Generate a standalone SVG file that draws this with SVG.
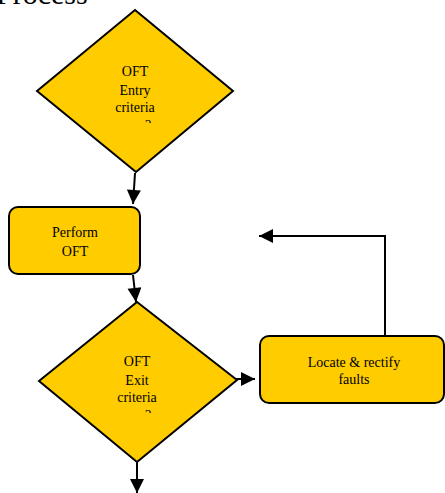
<svg xmlns="http://www.w3.org/2000/svg" width="445" height="493" viewBox="0 0 445 493">
<style>
.shape{fill:#FFCC00;stroke:#000;stroke-width:2}
.lbl{font-family:"Liberation Serif","Times New Roman",serif;font-size:14px;fill:#000;text-anchor:middle}
.conn{fill:none;stroke:#000;stroke-width:2}
</style>
<defs>
<marker id="ah" viewBox="0 0 10 10" refX="10" refY="5" markerWidth="15" markerHeight="14" markerUnits="userSpaceOnUse" orient="auto">
<path d="M0,0 L10,5 L0,10 Z" fill="#000"/>
</marker>
<clipPath id="c1"><rect x="100" y="116" width="80" height="7"/></clipPath>
<clipPath id="c2"><rect x="100" y="406" width="80" height="7"/></clipPath>
</defs>
<rect width="445" height="493" fill="#fff"/>
<text x="-4" y="4" style="font-family:'Liberation Serif','Times New Roman',serif;font-size:30px">Process</text>
<g id="connectors">
<path class="conn" d="M135,173 L133,204" marker-end="url(#ah)"/>
<path class="conn" d="M133,275 L136,302" marker-end="url(#ah)"/>
<path class="conn" d="M223,379 L255,379" marker-end="url(#ah)"/>
<path class="conn" d="M137,462 L137,493" marker-end="url(#ah)"/>
<path class="conn" d="M385,336 L385,236 L259,236" marker-end="url(#ah)"/>
</g>
<g id="entry">
<polygon class="shape" points="135,10 233,91 136,172 37,91"/>
<text class="lbl" x="135" y="76">OFT</text>
<text class="lbl" x="135" y="95">Entry</text>
<text class="lbl" x="135" y="112">criteria</text>
<text class="lbl" x="148" y="130" clip-path="url(#c1)">?</text>
</g>
<g id="perform">
<rect class="shape" x="9" y="207" width="131" height="67" rx="9"/>
<text class="lbl" x="75" y="237">Perform</text>
<text class="lbl" x="75" y="256">OFT</text>
</g>
<g id="exit">
<polygon class="shape" points="137,302 237,380 137,462 39,381"/>
<text class="lbl" x="137" y="366">OFT</text>
<text class="lbl" x="137" y="385">Exit</text>
<text class="lbl" x="137" y="402">criteria</text>
<text class="lbl" x="148" y="420" clip-path="url(#c2)">?</text>
</g>
<g id="locate">
<rect class="shape" x="260" y="336" width="184" height="67" rx="9"/>
<text class="lbl" x="354" y="367">Locate &amp; rectify</text>
<text class="lbl" x="354" y="384">faults</text>
</g>
</svg>
